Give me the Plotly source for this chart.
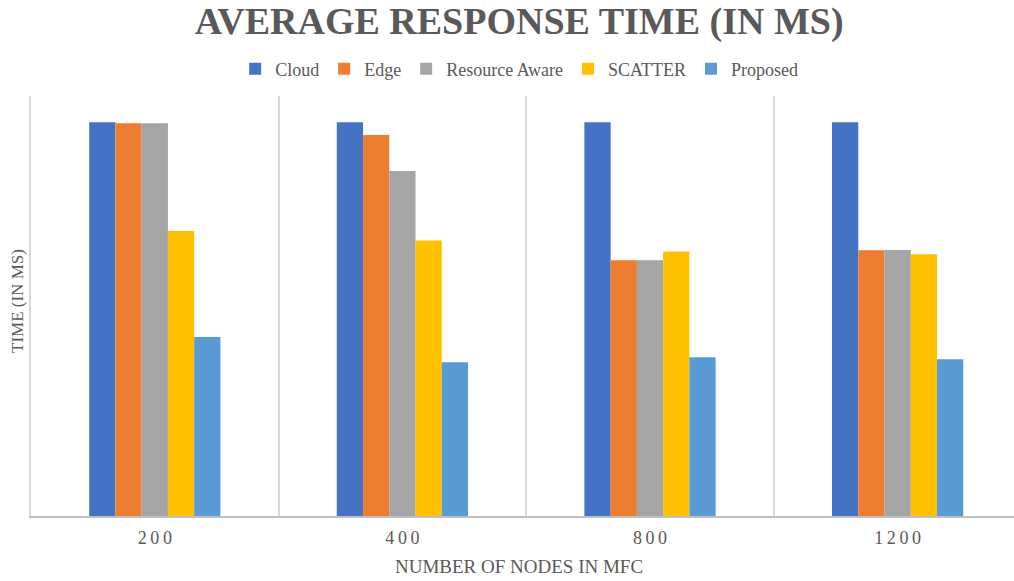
import plotly.graph_objects as go

# Network sizes (number of nodes in the MFC)
node_counts = ["200", "400", "800", "1200"]
tick_labels = ["2\u20090\u20090", "4\u20090\u20090", "8\u20090\u20090", "1\u20092\u20090\u20090"]

# Average response time per approach (ms)
cloud = [150.0, 150.0, 150.0, 150.0]
edge = [149.6, 145.1, 97.4, 101.2]
resource_aware = [149.6, 131.4, 97.4, 101.3]
scatter = [108.6, 105.0, 100.8, 99.7]
proposed = [68.2, 58.6, 60.5, 59.7]

series = [
    ("Cloud", cloud, "#4472C4"),
    ("Edge", edge, "#ED7D31"),
    ("Resource Aware", resource_aware, "#A5A5A5"),
    ("SCATTER", scatter, "#FFC000"),
    ("Proposed", proposed, "#5B9BD5"),
]

TEXT = "#595959"
SERIF = "Liberation Serif"

fig = go.Figure()
for name, vals, color in series:
    fig.add_trace(go.Bar(
        name=name, x=node_counts, y=vals,
        marker=dict(color=color, line=dict(width=0)),
    ))

fig.update_layout(
    width=1014, height=581,
    margin=dict(l=31, r=0, t=96, b=65),
    paper_bgcolor="white", plot_bgcolor="white",
    barmode="group", bargap=0.47, bargroupgap=0,
    font=dict(family=SERIF, color=TEXT),
    title=dict(
        text="<b>AVERAGE RESPONSE TIME (IN MS)</b>",
        x=0.512, xref="container", xanchor="center",
        y=0.965, yref="container", yanchor="middle",
        font=dict(size=38, color=TEXT, family=SERIF),
    ),
    legend=dict(
        orientation="h", xref="container", x=0.512, xanchor="center",
        yref="container", y=0.881, yanchor="middle",
        font=dict(size=18, color=TEXT, family=SERIF),
        itemwidth=30, tracegroupgap=0,
    ),
    showlegend=True,
)

fig.update_xaxes(
    type="category", range=[-0.5, 3.47],
    tickvals=node_counts, ticktext=tick_labels,
    tickson="boundaries", ticks="", showgrid=True,
    gridcolor="#D9D9D9", gridwidth=1.5,
    showline=True, linecolor="#BFBFBF", linewidth=1.5,
    tickfont=dict(size=18, color=TEXT, family=SERIF),
    ticklabelstandoff=5,
    zeroline=False,
)
fig.update_yaxes(
    range=[0, 160], showticklabels=False, showgrid=False, zeroline=False,
    showline=True, linecolor="#D9D9D9", linewidth=1.5, ticks="",
)

fig.add_annotation(
    text="NUMBER OF NODES IN MFC", xref="paper", yref="paper",
    x=(519 - 31) / 983, y=-0.12, xanchor="center", yanchor="middle",
    showarrow=False, font=dict(size=19, color=TEXT, family=SERIF),
)
fig.add_annotation(
    text="TIME (IN MS)", xref="paper", yref="paper",
    x=-14 / 983, y=(516 - 301) / 420, xanchor="center", yanchor="middle",
    textangle=-90, showarrow=False,
    font=dict(size=17, color=TEXT, family=SERIF),
)

fig.write_html("out.html")
